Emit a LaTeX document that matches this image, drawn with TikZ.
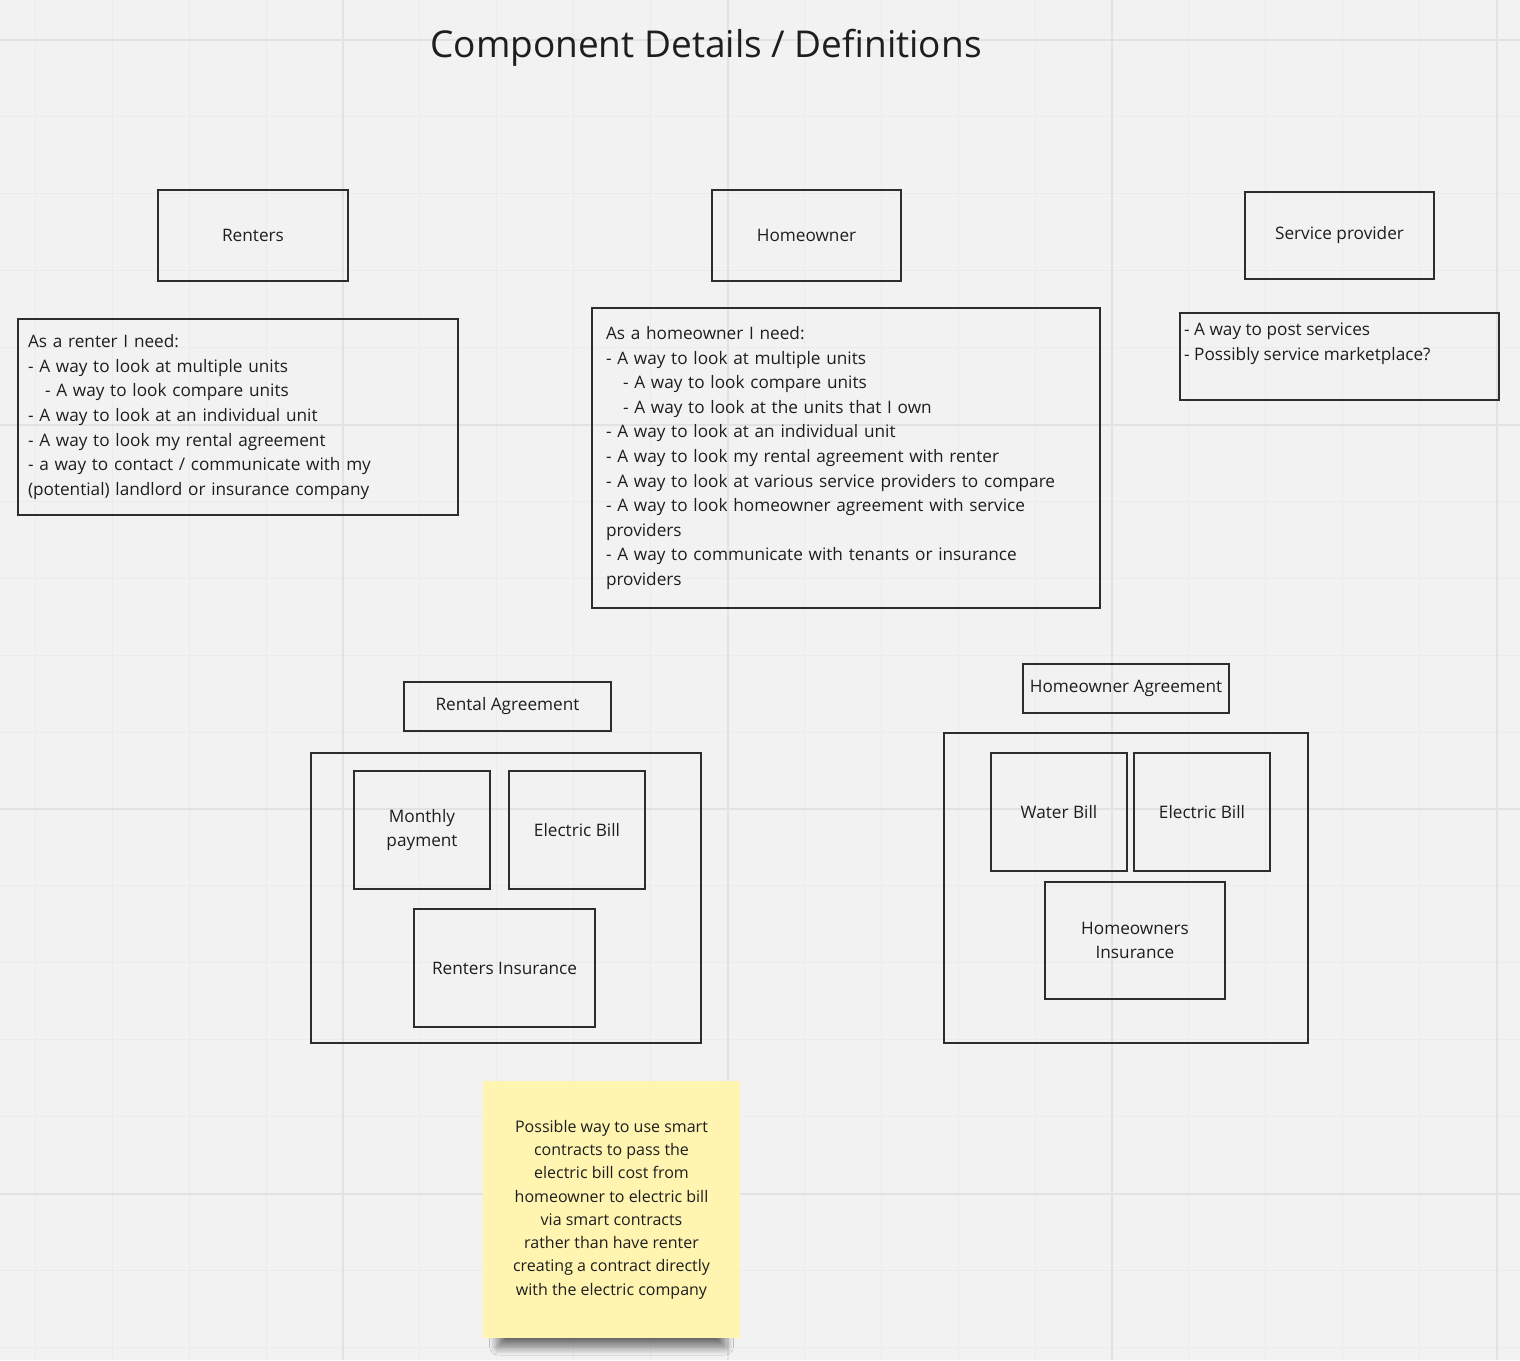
\documentclass[tikz,border=0pt]{standalone}
\usepackage{fontspec}
\setmainfont{Open Sans}
\usetikzlibrary{shadows.blur}

\definecolor{boardbg}{RGB}{242,242,242}
\definecolor{gridminor}{RGB}{235,235,235}
\definecolor{gridmajor}{RGB}{226,226,226}
\definecolor{inkline}{RGB}{45,45,45}
\definecolor{inktext}{RGB}{30,30,30}
\definecolor{stickyyellow}{RGB}{255,245,176}

\tikzset{
  box/.style={draw=inkline, line width=1.4pt, rectangle, inner sep=0pt,
    align=center, text=inktext, font=\fontsize{17.2}{24.6}\selectfont},
  needs/.style={box, align=left, inner xsep=10pt},
  sticky/.style={fill=stickyyellow, rectangle, inner sep=0pt, align=center,
    text=inktext, font=\fontsize{16}{23.3}\selectfont,
    blur shadow={shadow xshift=0pt, shadow yshift=-27pt, shadow scale=0.88,
      shadow blur radius=10pt, shadow blur steps=16, shadow opacity=60}}
}

\begin{document}
\begin{tikzpicture}[x=1pt, y=-1pt]
  \useasboundingbox (0,0) rectangle (1520,1360);
  \fill[boardbg] (0,0) rectangle (1520,1360);
  % board grid
  \foreach \k in {0,...,19}
    \draw[gridminor, line width=1pt] (35.4+76.9*\k,0) -- (35.4+76.9*\k,1360);
  \foreach \k in {0,...,17}
    \draw[gridminor, line width=1pt] (0,40+76.9*\k) -- (1520,40+76.9*\k);
  \foreach \k in {0,...,3}
    \draw[gridmajor, line width=2pt] (343+384.5*\k,0) -- (343+384.5*\k,1360);
  \foreach \k in {0,...,3}
    \draw[gridmajor, line width=2pt] (0,40+384.5*\k) -- (1520,40+384.5*\k);

  \node[text=inktext, font=\fontsize{37}{44}\selectfont] (title) at (706,48)
    {Component Details / Definitions};

  % actors
  \node[box, minimum width=190pt, minimum height=91pt] (renters) at (253,235.5) {Renters};
  \node[box, minimum width=189pt, minimum height=91pt] (homeowner) at (806.5,235.5) {Homeowner};
  \node[box, minimum width=189pt, minimum height=87pt] (provider) at (1339.5,235.5) {Service provider};

  % needs
  \node[needs, text width=420pt, minimum width=440pt, minimum height=196pt] (renterneeds) at (238,417)
    {As a renter I need:\\
     - A way to look at multiple units\\
     \hspace*{17pt}- A way to look compare units\\
     - A way to look at an individual unit\\
     - A way to look my rental agreement\\
     - a way to contact / communicate with my\\
     (potential) landlord or insurance company};
  \node[needs, inner xsep=14pt, text width=480pt, minimum width=508pt, minimum height=300pt] (ownerneeds) at (846,458)
    {As a homeowner I need:\\
     - A way to look at multiple units\\
     \hspace*{17pt}- A way to look compare units\\
     \hspace*{17pt}- A way to look at the units that I own\\
     - A way to look at an individual unit\\
     - A way to look my rental agreement with renter\\
     - A way to look at various service providers to compare\\
     - A way to look homeowner agreement with service\\
     providers\\
     - A way to communicate with tenants or insurance\\
     providers};
  \node[box, minimum width=319pt, minimum height=87pt] (providerneeds) at (1339.5,356.5) {};
  \node[anchor=north west, align=left, inner sep=0pt, text=inktext,
    font=\fontsize{17.2}{24.6}\selectfont] (providertext) at (1184,323)
    {- A way to post services\\
     - Possibly service marketplace?};

  % rental agreement
  \node[box, minimum width=207pt, minimum height=49pt] (rental) at (507.5,706.5) {Rental Agreement};
  \node[box, minimum width=390pt, minimum height=290pt] (rentalbox) at (506,898) {};
  \node[box, minimum width=136pt, minimum height=118pt] (monthly) at (422,830) {Monthly\\payment};
  \node[box, minimum width=136pt, minimum height=118pt] (rentelec) at (577,830) {Electric Bill};
  \node[box, minimum width=181pt, minimum height=118pt] (rentins) at (504.5,968) {Renters Insurance};

  % homeowner agreement
  \node[box, minimum width=206pt, minimum height=49pt] (owneragr) at (1126,688.5) {Homeowner Agreement};
  \node[box, minimum width=364pt, minimum height=310pt] (ownerbox) at (1126,888) {};
  \node[box, minimum width=136pt, minimum height=118pt] (water) at (1059,812) {Water Bill};
  \node[box, minimum width=136pt, minimum height=118pt] (ownerelec) at (1202,812) {Electric Bill};
  \node[box, minimum width=180pt, minimum height=117pt] (ownerins) at (1135,940.5) {Homeowners\\Insurance};

  % sticky note
  \node[sticky, minimum width=257pt, minimum height=257pt] (note) at (611.5,1209.5)
    {Possible way to use smart\\
     contracts to pass the\\
     electric bill cost from\\
     homeowner to electric bill\\
     via smart contracts\\
     rather than have renter\\
     creating a contract directly\\
     with the electric company};
\end{tikzpicture}
\end{document}
